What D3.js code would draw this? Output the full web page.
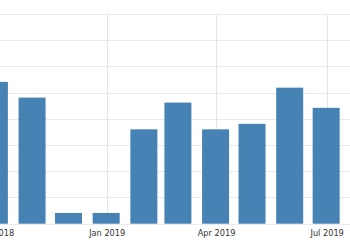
<!DOCTYPE html>
<html>
<head>
<meta charset="utf-8">
<script src="https://cdn.jsdelivr.net/npm/d3@7"></script>
<style>
html,body{margin:0;padding:0;background:#fff;overflow:hidden;}
svg{display:block;}
</style>
</head>
<body>
<svg id="chart" width="350" height="250"></svg>
<script>
const months = ["2018-10","2018-11","2018-12","2019-01","2019-02","2019-03","2019-04","2019-05","2019-06","2019-07"];
const values = [5.41, 4.81, 0.41, 0.41, 3.60, 4.62, 3.60, 3.81, 5.19, 4.42];
const tickMonths = ["2018-10","2019-01","2019-04","2019-07"];
const gridValues = [0,1,2,3,4,5,6,7,8];

const parse = d3.timeParse("%Y-%m");
const svg = d3.select("#chart");

const x = d3.scaleTime()
  .domain([new Date(2018, 9, 5, 4, 48), new Date(2019, 6, 20, 5, 0)])
  .range([0, 350]);
const y = d3.scaleLinear().domain([0, 8]).range([223.7, 14]);

// horizontal grid
svg.append("g").selectAll("line").data(gridValues).join("line")
  .attr("x1", 0).attr("x2", 350)
  .attr("y1", d => Math.round(y(d)) + 0.5).attr("y2", d => Math.round(y(d)) + 0.5)
  .attr("stroke", "#eaeaea").attr("stroke-width", 1);

// vertical grid
svg.append("g").selectAll("line").data(tickMonths.map(parse)).join("line")
  .attr("x1", d => Math.round(x(d)) + 0.5).attr("x2", d => Math.round(x(d)) + 0.5)
  .attr("y1", y(8)).attr("y2", y(0))
  .attr("stroke", "#e4e4e4").attr("stroke-width", 1);

// bars
const bw = 27;
svg.append("g").selectAll("rect").data(months.map((m, i) => ({d: parse(m), v: values[i]}))).join("rect")
  .attr("x", d => x(d.d) - bw / 2 - 0.5)
  .attr("width", bw)
  .attr("y", d => y(d.v))
  .attr("height", d => y(0) - y(d.v))
  .attr("fill", "#4682b4");

// x axis labels
const axis = d3.axisBottom(x)
  .tickValues(tickMonths.map(parse))
  .tickSize(0)
  .tickPadding(0)
  .tickFormat(d3.timeFormat("%b %Y"));
const g = svg.append("g").attr("transform", "translate(0,226)").call(axis);
g.select(".domain").remove();
g.selectAll("text")
  .attr("font-family", "'DejaVu Sans', Verdana, sans-serif")
  .attr("font-size", "8.2px")
  .attr("fill", "#333")
  .attr("dy", "0")
  .attr("y", 9.5);
</script>
</body>
</html>
